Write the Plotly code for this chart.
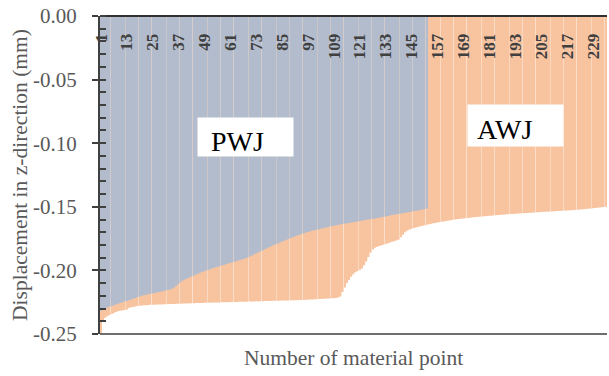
import plotly.graph_objects as go

awj = [
    -0.2500, -0.2400, -0.2372, -0.2361, -0.2350, -0.2342, -0.2335, -0.2327, -0.2321, -0.2318,
    -0.2315, -0.2312, -0.2308, -0.2296, -0.2290, -0.2287, -0.2283, -0.2280, -0.2278, -0.2276,
    -0.2274, -0.2273, -0.2272, -0.2271, -0.2270, -0.2270, -0.2269, -0.2268, -0.2268, -0.2267,
    -0.2266, -0.2266, -0.2265, -0.2264, -0.2264, -0.2263, -0.2262, -0.2262, -0.2261, -0.2260,
    -0.2260, -0.2259, -0.2259, -0.2258, -0.2257, -0.2257, -0.2256, -0.2256, -0.2255, -0.2255,
    -0.2254, -0.2254, -0.2253, -0.2253, -0.2252, -0.2252, -0.2251, -0.2251, -0.2250, -0.2250,
    -0.2249, -0.2249, -0.2248, -0.2248, -0.2247, -0.2247, -0.2246, -0.2246, -0.2245, -0.2245,
    -0.2244, -0.2244, -0.2243, -0.2243, -0.2242, -0.2242, -0.2241, -0.2241, -0.2240, -0.2240,
    -0.2239, -0.2239, -0.2238, -0.2238, -0.2237, -0.2237, -0.2236, -0.2236, -0.2235, -0.2235,
    -0.2234, -0.2234, -0.2233, -0.2233, -0.2232, -0.2231, -0.2230, -0.2229, -0.2228, -0.2227,
    -0.2226, -0.2225, -0.2224, -0.2223, -0.2222, -0.2221, -0.2220, -0.2219, -0.2218, -0.2216,
    -0.2214, -0.2205, -0.2170, -0.2135, -0.2100, -0.2075, -0.2050, -0.2030, -0.2015, -0.2005,
    -0.1995, -0.1985, -0.1960, -0.1930, -0.1895, -0.1860, -0.1835, -0.1822, -0.1815, -0.1808,
    -0.1803, -0.1798, -0.1792, -0.1787, -0.1781, -0.1776, -0.1770, -0.1765, -0.1758, -0.1740,
    -0.1720, -0.1700, -0.1688, -0.1680, -0.1673, -0.1667, -0.1662, -0.1658, -0.1654, -0.1650,
    -0.1646, -0.1642, -0.1638, -0.1634, -0.1630, -0.1627, -0.1624, -0.1621, -0.1618, -0.1615,
    -0.1612, -0.1609, -0.1606, -0.1603, -0.1600, -0.1598, -0.1596, -0.1594, -0.1592, -0.1590,
    -0.1588, -0.1586, -0.1584, -0.1582, -0.1580, -0.1579, -0.1577, -0.1576, -0.1574, -0.1573,
    -0.1571, -0.1570, -0.1568, -0.1567, -0.1565, -0.1564, -0.1562, -0.1561, -0.1559, -0.1558,
    -0.1557, -0.1556, -0.1555, -0.1554, -0.1552, -0.1551, -0.1550, -0.1549, -0.1548, -0.1547,
    -0.1546, -0.1545, -0.1543, -0.1542, -0.1541, -0.1540, -0.1539, -0.1538, -0.1537, -0.1536,
    -0.1535, -0.1534, -0.1533, -0.1532, -0.1531, -0.1530, -0.1529, -0.1528, -0.1527, -0.1526,
    -0.1524, -0.1523, -0.1522, -0.1520, -0.1519, -0.1517, -0.1515, -0.1514, -0.1512, -0.1510,
    -0.1508, -0.1506, -0.1504, -0.1502, -0.1500,
]

pwj = [
    -0.2320, -0.2310, -0.2300, -0.2292, -0.2285, -0.2280, -0.2274, -0.2268, -0.2262, -0.2256,
    -0.2250, -0.2245, -0.2240, -0.2234, -0.2228, -0.2222, -0.2216, -0.2210, -0.2205, -0.2200,
    -0.2196, -0.2192, -0.2188, -0.2184, -0.2180, -0.2177, -0.2173, -0.2170, -0.2166, -0.2162,
    -0.2158, -0.2154, -0.2150, -0.2145, -0.2135, -0.2120, -0.2105, -0.2090, -0.2080, -0.2072,
    -0.2064, -0.2056, -0.2048, -0.2040, -0.2033, -0.2026, -0.2019, -0.2012, -0.2006, -0.2000,
    -0.1994, -0.1988, -0.1982, -0.1977, -0.1972, -0.1967, -0.1962, -0.1957, -0.1951, -0.1946,
    -0.1941, -0.1936, -0.1931, -0.1926, -0.1921, -0.1916, -0.1911, -0.1905, -0.1898, -0.1890,
    -0.1882, -0.1874, -0.1866, -0.1858, -0.1850, -0.1842, -0.1834, -0.1826, -0.1818, -0.1810,
    -0.1802, -0.1795, -0.1788, -0.1781, -0.1774, -0.1767, -0.1760, -0.1753, -0.1746, -0.1739,
    -0.1732, -0.1726, -0.1720, -0.1714, -0.1708, -0.1703, -0.1698, -0.1693, -0.1688, -0.1684,
    -0.1680, -0.1676, -0.1672, -0.1668, -0.1664, -0.1660, -0.1656, -0.1652, -0.1648, -0.1645,
    -0.1642, -0.1639, -0.1636, -0.1633, -0.1630, -0.1627, -0.1624, -0.1621, -0.1618, -0.1615,
    -0.1612, -0.1609, -0.1606, -0.1603, -0.1600, -0.1597, -0.1594, -0.1591, -0.1588, -0.1585,
    -0.1582, -0.1579, -0.1576, -0.1572, -0.1568, -0.1565, -0.1562, -0.1559, -0.1556, -0.1553,
    -0.1550, -0.1547, -0.1544, -0.1541, -0.1538, -0.1535, -0.1532, -0.1529, -0.1526, -0.1522,
    -0.1518, -0.1514,
]

awj_points = list(range(1, len(awj) + 1))
pwj_points = list(range(1, len(pwj) + 1))

x_tick_vals = [1, 13, 25, 37, 49, 61, 73, 85, 97, 109, 121, 133, 145, 157, 169, 181, 193, 205, 217, 229]
x_tick_text = [str(v) for v in x_tick_vals]
y_tick_vals = [0.0, -0.05, -0.10, -0.15, -0.20, -0.25]
y_tick_text = ["0.00", "-0.05", "-0.10", "-0.15", "-0.20", "-0.25"]

SERIF = "Liberation Serif, Times New Roman, serif"

fig = go.Figure()
fig.add_trace(go.Bar(x=awj_points, y=awj, name="AWJ",
                     marker=dict(color="rgb(248,196,160)", line=dict(width=0))))
fig.add_trace(go.Bar(x=pwj_points, y=pwj, name="PWJ",
                     marker=dict(color="rgb(178,188,204)", line=dict(width=0))))

fig.update_layout(
    width=609, height=376,
    margin=dict(l=100, r=2, t=16, b=42, autoexpand=False),
    paper_bgcolor="white", plot_bgcolor="white",
    barmode="overlay", bargap=0.22,
    showlegend=False,
    font=dict(family=SERIF, color="#595959"),
    xaxis=dict(
        range=[0.5, len(awj) + 0.5],
        side="bottom", anchor="free", position=1.0,
        tickmode="array", tickvals=x_tick_vals, ticktext=x_tick_text,
        tickangle=-90,
        ticklabelstandoff=10,
        tickfont=dict(size=17, color="#404040", family=SERIF, weight="bold"),
        ticks="",
        showgrid=False, zeroline=False,
        showline=True, linecolor="#303030", linewidth=2,
        automargin=False,
        title=None,
    ),
    yaxis=dict(
        range=[-0.25, 0.0],
        tickmode="array", tickvals=y_tick_vals, ticktext=y_tick_text,
        tickfont=dict(size=21, color="#595959", family=SERIF),
        ticks="outside", ticklen=6, tickwidth=2, tickcolor="#404040",
        ticklabelstandoff=11,
        minor=dict(dtick=0.01, tick0=0, ticks="inside", ticklen=6, tickwidth=2,
                   tickcolor="#404040"),
        showgrid=False, zeroline=False,
        showline=True, linecolor="#404040", linewidth=2,
        automargin=False,
        title=dict(text="Displacement in z-direction (mm)",
                   font=dict(size=21.5, color="#595959", family=SERIF), standoff=0),
    ),
    shapes=[
        dict(type="line", xref="paper", yref="paper", x0=0, x1=1, y0=0, y1=0,
             line=dict(color="#6e6e6e", width=2)),
    ],
    annotations=[
        dict(xref="paper", yref="paper", x=0.5, y=-0.03, yanchor="top", showarrow=False,
             text="Number of material point",
             font=dict(size=21.5, color="#595959", family=SERIF)),
        dict(x=68, y=-0.0955, showarrow=False, text=" ", width=95, height=38,
             bgcolor="white", borderpad=0),
        dict(x=64, y=-0.0985, showarrow=False, text="PWJ",
             font=dict(size=28, color="black", family=SERIF)),
        dict(x=193, y=-0.0860, showarrow=False, text=" ", width=95, height=41,
             bgcolor="white", borderpad=0),
        dict(x=188, y=-0.0890, showarrow=False, text="AWJ",
             font=dict(size=28, color="black", family=SERIF)),
    ],
)

fig.write_html("out.html",
               config={"displayModeBar": False},
               post_script="document.body.style.margin='0';document.body.style.overflow='hidden';")
